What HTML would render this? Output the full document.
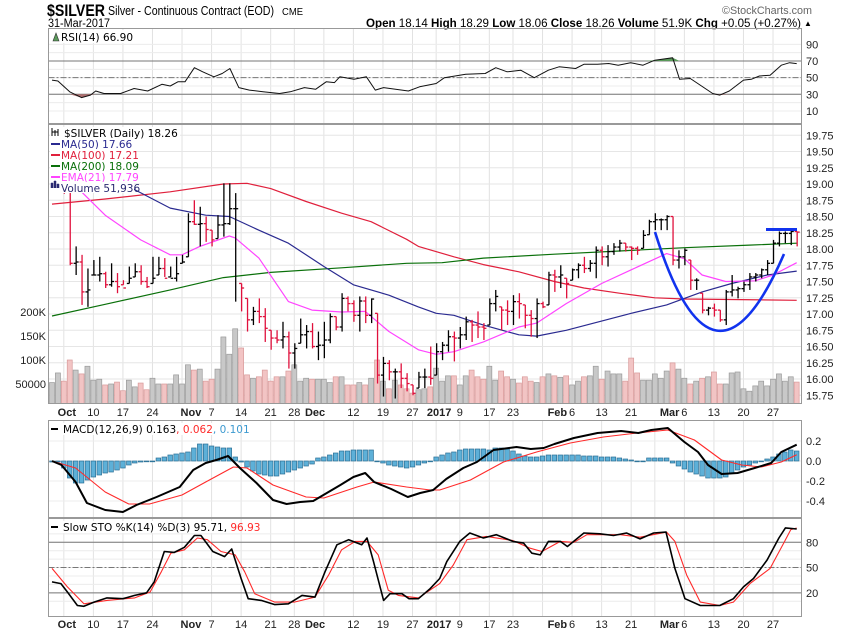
<!DOCTYPE html>
<html><head><meta charset="utf-8">
<style>
html,body{margin:0;padding:0;background:#fff;}
body{width:850px;height:633px;overflow:hidden;font-family:"Liberation Sans",sans-serif;}
svg text{font-family:"Liberation Sans",sans-serif;}
.lg{font-family:"DejaVu Sans","Liberation Sans",sans-serif;font-size:10.5px;}
.ax{font-size:11px;fill:#222;}
</style></head>
<body>
<svg id="chart" width="850" height="633" viewBox="0 0 850 633" xmlns="http://www.w3.org/2000/svg">
<g id="header">
<text x="47" y="16" font-size="17" font-weight="bold" textLength="58" lengthAdjust="spacingAndGlyphs">$SILVER</text>
<text x="108" y="15" font-size="12.5" textLength="166" lengthAdjust="spacingAndGlyphs">Silver - Continuous Contract (EOD)</text>
<text x="282" y="15" font-size="10" textLength="21" lengthAdjust="spacingAndGlyphs">CME</text>
<text x="48" y="27" font-size="11.5" textLength="62" lengthAdjust="spacingAndGlyphs">31-Mar-2017</text>
<text x="722" y="14" font-size="11" fill="#666" textLength="90" lengthAdjust="spacingAndGlyphs">©StockCharts.com</text>
<text x="366" y="27" font-size="12" textLength="435" lengthAdjust="spacingAndGlyphs"><tspan font-weight="bold">Open</tspan> 18.14 <tspan font-weight="bold">High</tspan> 18.29 <tspan font-weight="bold">Low</tspan> 18.06 <tspan font-weight="bold">Close</tspan> 18.26 <tspan font-weight="bold">Volume</tspan> 51.9K <tspan font-weight="bold">Chg</tspan> +0.05 (+0.27%)</text>
<text x="804" y="26" font-size="8">▲</text>
</g>
</svg>
<script>
// ---------- DATA ----------
const closes=[19.05,19.10,18.90,17.78,17.80,17.34,17.37,17.60,17.62,17.45,17.50,17.42,17.40,17.55,17.65,17.50,17.42,17.55,17.70,17.55,17.55,17.62,17.80,18.42,18.38,18.39,18.30,18.14,18.37,18.39,18.62,18.62,17.40,16.91,17.04,16.96,16.78,16.63,16.60,16.65,16.40,16.47,16.68,16.73,16.50,16.52,16.60,16.96,16.80,17.24,17.16,16.98,17.20,16.98,17.23,16.06,16.24,16.11,16.11,16.01,15.93,15.78,16.03,16.03,
16.01,16.42,16.52,16.65,16.63,16.68,16.88,16.83,16.80,16.78,17.16,17.27,17.06,17.04,17.19,17.16,16.98,16.93,17.16,17.11,17.60,17.57,17.60,17.47,17.68,17.75,17.70,17.78,17.98,17.88,17.96,18.03,18.09,18.03,18.01,17.98,18.21,18.42,18.45,18.45,18.50,17.83,17.88,17.98,17.52,17.52,17.06,17.09,17.06,16.91,17.34,17.37,17.39,17.45,17.57,17.60,17.68,17.78,18.09,18.24,18.24,18.27,18.26];
const highs=[19.2,19.2,19.2,18.88,18.04,17.91,17.7,17.83,17.88,17.65,17.78,17.63,17.52,17.73,17.78,17.75,17.57,17.88,17.88,17.86,17.73,17.88,17.91,18.55,18.75,18.65,18.5,18.29,18.52,19.01,19.01,18.86,17.47,17.24,17.11,17.24,17.09,16.75,16.75,16.88,16.73,16.55,16.93,16.83,16.86,16.73,16.88,17.01,16.96,17.32,17.27,17.21,17.27,17.27,17.24,17.01,16.34,16.29,16.16,16.24,16.09,15.91,16.11,16.16,
16.5,16.55,16.57,16.75,16.73,16.8,16.96,16.91,17.04,16.86,17.24,17.37,17.11,17.21,17.29,17.32,17.14,17.06,17.24,17.19,17.65,17.68,17.75,17.55,17.7,17.78,17.88,17.83,18.04,18.04,18.06,18.09,18.14,18.09,18.04,18.04,18.29,18.45,18.55,18.47,18.52,18.5,17.98,18.01,17.83,17.55,17.32,17.11,17.16,17.06,17.37,17.6,17.42,17.5,17.63,17.63,17.7,17.83,18.14,18.27,18.27,18.32,18.27];
const lows=[19.0,19.02,18.85,17.75,17.6,17.14,17.11,17.6,17.5,17.4,17.42,17.32,17.45,17.47,17.57,17.45,17.4,17.47,17.6,17.57,17.57,17.5,17.78,17.88,18.37,18.04,18.11,18.04,18.16,18.19,18.37,17.19,17.04,16.73,16.83,16.86,16.57,16.45,16.55,16.47,16.16,16.16,16.55,16.47,16.47,16.29,16.32,16.55,16.75,16.73,17.04,16.88,16.73,16.86,16.86,15.93,15.73,15.98,15.7,15.86,15.81,15.75,15.86,15.86,
15.91,16.06,16.29,16.42,16.27,16.47,16.6,16.57,16.63,16.6,16.83,17.04,16.75,16.83,16.83,16.93,16.78,16.65,16.63,17.09,17.14,17.34,17.4,17.24,17.52,17.55,17.63,17.65,17.55,17.75,17.73,17.91,17.96,17.96,17.83,17.91,18.01,18.22,18.29,18.29,18.29,17.75,17.7,17.75,17.37,17.37,17.01,16.98,16.96,16.88,16.83,17.27,17.24,17.34,17.37,17.5,17.55,17.6,17.78,18.04,18.09,18.06,18.04];
const volumesK=[53,73,56,100,79,71,87,58,60,48,50,54,36,58,44,52,38,62,50,50,50,69,50,90,79,81,56,60,81,148,112,165,125,69,62,65,79,56,65,65,77,90,56,62,60,60,60,53,65,65,48,48,53,48,62,100,56,40,58,48,40,31,38,40,
44,83,56,67,67,48,67,79,65,60,87,58,77,65,60,52,65,56,53,65,71,67,64,67,48,56,65,67,87,60,77,71,71,56,104,73,58,58,71,62,77,94,81,62,50,56,62,65,75,50,50,73,75,40,35,46,56,46,60,71,56,65,54];
const ma50Idx=[13,20,26,30,35,40,46,51,57,62,65,68,73,79,82,87,93,98,104,110,115,121,126];
const ma50Val=[18.96,18.63,18.52,18.5,18.29,18.09,17.73,17.45,17.29,17.11,17.01,16.98,16.83,16.68,16.66,16.75,16.89,17.01,17.14,17.34,17.47,17.6,17.66];
const ma100Idx=[0,9,20,29,33,37,43,49,54,60,62,68,73,79,85,90,96,102,107,126];
const ma100Val=[18.69,18.77,18.88,19.0,19.01,18.93,18.73,18.55,18.42,18.15,18.04,17.88,17.76,17.65,17.5,17.4,17.32,17.25,17.23,17.21];
const ma200Idx=[0,9,20,29,37,49,60,66,73,85,96,107,118,126];
const ma200Val=[16.97,17.15,17.37,17.56,17.64,17.71,17.78,17.79,17.86,17.92,17.97,18.02,18.06,18.09];
const ema21Idx=[5,9,15,20,22,25,30,31,35,40,44,49,53,57,62,65,68,73,79,82,87,93,98,104,107,110,114,119,122,126];
const ema21Val=[18.88,18.52,18.14,17.91,17.91,18.04,18.2,18.17,17.86,17.19,17.06,17.03,17.04,16.73,16.45,16.38,16.42,16.57,16.8,16.86,17.16,17.47,17.68,17.93,17.85,17.6,17.5,17.51,17.6,17.79];
const rsiIdx=[0,1,3,5,6.5,7.4,8.8,11.6,13.9,16.2,18.6,20,21.3,22.5,24.1,25.5,27.4,28.8,30.1,31.6,33.4,35.7,38.5,40.3,42.7,44.6,46.4,47.8,48.7,51.1,53.2,54.7,56.1,60.3,62.2,65,66.4,70,73.3,75.1,77,79.3,81.6,84,85.8,88.6,90,92.3,94.2,95.8,97.9,100,102,105,106.2,108,111.8,113,114.6,117,118.3,119.7,121.5,123.4,124.8,126];
const rsiVal=[47,46,33,26,29,34,31,31,37,34,42,40,45,45,62,57,51,55,61,38,35,33,31,33,38,36,45,44,51,48,51,35,38,34,39,43,50,54,55,62,57,59,50,59,63,61,66,66,67,65,68,65,71,74,48,49,31,29,34,47,48,52,53,65,68,66.9];
const macdIdx=[0,1.6,4,5.9,9,12,14.3,17.7,21.6,23.9,26,27.8,29.8,31.8,34.6,37.4,39.7,42,44.2,46.5,48.8,51,53,54.5,57.4,60.2,62.3,64.5,66.7,69.6,71.9,74.7,78.6,81,83.2,85,88.3,92.3,96.3,99.2,101.4,104.2,107,109.3,111,113.3,116,118.9,121.7,123.4,126];
const macdVal=[0,-0.04,-0.21,-0.42,-0.49,-0.51,-0.44,-0.36,-0.26,-0.09,-0.02,0.01,0.05,-0.07,-0.22,-0.39,-0.43,-0.41,-0.40,-0.32,-0.24,-0.16,-0.12,-0.21,-0.28,-0.36,-0.32,-0.29,-0.18,-0.07,-0.01,0.11,0.14,0.12,0.13,0.17,0.23,0.28,0.30,0.28,0.31,0.33,0.19,0.09,-0.04,-0.13,-0.12,-0.07,-0.02,0.09,0.163];
const sigIdx=[0,4,9,13,16.5,22,26,30.7,33,37.4,43,46,51.6,54.5,60,64,65.6,70.8,76.4,82,87.7,93.3,99,104.2,108.7,113.3,116.7,120,123.4,126];
const sigVal=[0,-0.07,-0.31,-0.43,-0.43,-0.34,-0.21,-0.06,-0.07,-0.24,-0.36,-0.37,-0.26,-0.21,-0.26,-0.29,-0.29,-0.19,-0.01,0.09,0.18,0.24,0.28,0.31,0.21,0.01,-0.04,-0.06,-0.01,0.062];
const histVal=[-0.01,-0.01,-0.07,-0.17,-0.22,-0.22,-0.19,-0.16,-0.14,-0.12,-0.11,-0.09,-0.07,-0.04,-0.02,-0.01,0,0,0.03,0.04,0.06,0.07,0.08,0.09,0.13,0.17,0.17,0.15,0.14,0.13,0.13,0.04,-0.01,-0.06,-0.10,-0.13,-0.14,-0.15,-0.15,-0.13,-0.11,-0.09,-0.07,-0.05,-0.03,0.03,0.04,0.06,0.08,0.10,0.10,0.11,0.11,0.11,0.11,0,-0.02,-0.04,-0.05,-0.06,-0.07,-0.06,-0.04,-0.02,0,
0.04,0.06,0.08,0.09,0.11,0.12,0.12,0.12,0.12,0.11,0.13,0.13,0.12,0.10,0.07,0.05,0.04,0.04,0.05,0.06,0.06,0.06,0.06,0.06,0.06,0.05,0.05,0.05,0.04,0.04,0.04,0.03,0.02,0.01,0,0,0.03,0.03,0.03,0.03,-0.02,-0.05,-0.08,-0.11,-0.13,-0.15,-0.17,-0.17,-0.17,-0.16,-0.12,-0.09,-0.06,-0.04,-0.02,0,0.02,0.04,0.07,0.09,0.11,0.10];
const stoKIdx=[0,1.5,2.6,4.3,5.4,7.1,9.3,12,14,16,17.3,19,20.7,22.4,24.1,25.2,27.2,29.2,30.4,32,33.2,35.4,37.7,40,42.3,44.5,46.2,48.2,50.2,52.4,53.3,54.4,56.1,57.2,59.2,60.4,62,64,65.6,66.8,69,70.7,73,75.2,78,79.8,81.2,82.6,84,86,87.2,90,92.7,95,97.2,99.5,101.8,103.9,105.4,107.1,109.7,113,115.3,117,118.7,121,123,124.1,126];
const stoKVal=[33,31,21,5,4,9,14,13,17,20,33,69,68,74,88,88,69,63,72,37,13,11,6,7,17,15,45,77,83,77,85,57,11,19,19,13,13,25,37,57,81,91,85,89,81,79,67,65,81,81,75,91,90,88,91,84,91,92,49,13,5,5,13,27,37,59,85,97,95.71];
const stoDIdx=[0,2.6,5.4,9.3,14,16.6,18.5,20.1,22.4,24.6,26.3,28.6,31,32.6,34.3,37.7,41,44.5,46.8,49,51.3,53.3,55.2,56.9,58.6,62,65.6,67.9,70.2,73.5,78,80.9,82.9,86,88.3,90.5,96.2,99.5,104,105.4,107.4,109.7,113,115.3,118.1,121.5,123.8,125,126];
const stoDVal=[49,27,7,11,14,21,45,67,71,85,83,69,65,45,19,9,9,15,41,71,81,81,65,23,17,14,31,53,83,87,82,73,69,81,80,89,89,86,92,81,41,9,5,9,31,49,79,95,96.93];
const tickIdx=[2,7,12,17,23,27,32,37,41,44,51,56,61,65,69,74,78,85,88,93,98,104,107,112,117,122];
const tickLabels=["Oct","10","17","24","Nov","7","14","21","28","Dec","12","19","27","2017","9","17","23","Feb","6","13","21","Mar","6","13","20","27"];
const monthTicks=["Oct","Nov","Dec","2017","Feb","Mar"];
const gridIdx=[2,7,12,17,22,27,32,37,41,46,51,56,61,65,69,74,78,83,88,93,98,102,107,112,117,122];
const priceTicks=[15.75,16.0,16.25,16.5,16.75,17.0,17.25,17.5,17.75,18.0,18.25,18.5,18.75,19.0,19.25,19.5,19.75];
const volTicks=[50000,100000,150000,200000];
const volTickLabels=["50000","100K","150K","200K"];
const rsiTicks=[10,30,50,70,90];
const macdTicks=[-0.4,-0.2,0.0,0.2];
const stoTicks=[20,50,80];

// ---------- SCALES ----------
const L=48.5,R=801.5;
const X=i=>52+i*5.91;
const P={top:124.5,bot:403.5};
const yP=p=>184+(19-p)*65;
const yV=v=>408-v/50000*24;
const RS={top:28.5,bot:123.5}; const yR=v=>119.3-v*0.833;
const MC={top:420.5,bot:517.5}; const yM=v=>461-v*100;
const ST={top:518.5,bot:616.5}; const yS=v=>609.7-v*0.843;

const svg=document.getElementById('chart');
const NS='http://www.w3.org/2000/svg';
function mk(tag,attrs,parent){const e=document.createElementNS(NS,tag);for(const k in attrs)e.setAttribute(k,attrs[k]);(parent||svg).appendChild(e);return e;}
function txt(x,y,s,attrs,parent){const t=mk('text',Object.assign({x:x,y:y},attrs||{}),parent);t.textContent=s;return t;}

const defs=mk('defs',{});
[['cR',RS],['cP',P],['cM',MC],['cS',ST]].forEach(([id,r])=>{const c=mk('clipPath',{id:id},defs);mk('rect',{x:L,y:r.top,width:R-L,height:r.bot-r.top},c);});

function panel(name,r,clip){
  const g=mk('g',{'clip-path':'url(#'+clip+')'});
  
  
  gridIdx.forEach(i=>{const l=mk('line',{x1:X(i),x2:X(i),y1:r.top,y2:r.bot,stroke:'#e2e2e2','stroke-width':1},g);
    
    });
  return g;
}
function frame(name,r){const f=mk('rect',{x:L,y:r.top,width:R-L,height:r.bot-r.top,fill:'none',stroke:'#999','stroke-width':1});
  
  }
function poly(g,idx,val,yf,color,w,name){
  const pts=idx.map((i,k)=>X(i).toFixed(1)+','+yf(val[k]).toFixed(1)).join(' ');
  const p=mk('polyline',{points:pts,fill:'none',stroke:color,'stroke-width':w,'stroke-linejoin':'round'},g);
  
  
  return p;
}
function hline(g,y,color,dash,name){const l=mk('line',{x1:L,x2:R,y1:y,y2:y,stroke:color,'stroke-width':1},g);if(dash)l.setAttribute('stroke-dasharray',dash);
  
  }

// ---------- RSI ----------
const gR=panel('rsi-panel',RS,'cR');
for(let v=10;v<=90;v+=10){hline(gR,yR(v),'#ececec',null,'rsi-gridline');}
hline(gR,yR(30),'#777',null,'rsi-30-line');hline(gR,yR(70),'#777',null,'rsi-70-line');hline(gR,yR(50),'#777','6,2,2,2','rsi-50-line');
(function(){
  const ptsUp=[],ptsDn=[];
  rsiIdx.forEach((i,k)=>{ptsUp.push([X(i),Math.min(yR(rsiVal[k]),yR(70))]);ptsDn.push([X(i),Math.max(yR(rsiVal[k]),yR(30))]);});
  const pu='M'+X(rsiIdx[0])+','+yR(70)+ptsUp.map(p=>'L'+p[0].toFixed(1)+','+p[1].toFixed(1)).join('')+'L'+X(rsiIdx[rsiIdx.length-1])+','+yR(70)+'Z';
  const pd='M'+X(rsiIdx[0])+','+yR(30)+ptsDn.map(p=>'L'+p[0].toFixed(1)+','+p[1].toFixed(1)).join('')+'L'+X(rsiIdx[rsiIdx.length-1])+','+yR(30)+'Z';
  const a=mk('path',{d:pu,fill:'#5a9a5a'},gR);
  
  
  const b=mk('path',{d:pd,fill:'#b07070'},gR);
  
  
})();
poly(gR,rsiIdx,rsiVal,yR,'#111',1,'rsi-line');
frame('rsi-frame',RS);
rsiTicks.forEach(v=>{const t=txt(806,yR(v)+4,String(v),{class:'ax'});
  
  });
const rl=mk('rect',{x:50,y:30,width:82,height:13,fill:'#fff'});


const ri=mk('path',{d:'M53,41 L56,33 L59,41 Z',fill:'#5a9a5a',stroke:'#333','stroke-width':0.6});


const rt=txt(61,41,'RSI(14) 66.90',{class:'lg'});



// ---------- PRICE ----------
const gP=panel('price-panel',P,'cP');
priceTicks.forEach(p=>hline(gP,yP(p),'#e6e6e6',null,'price-gridline'));
volumesK.forEach((v,i)=>{
  const down=i>0&&closes[i]<closes[i-1];
  const y=yV(v*1000);
  const r=mk('rect',{x:X(i)-2.5,y:y,width:5,height:P.bot-y,fill:down?'#f2c4c4':'#c8c8c8',stroke:down?'#d89a9a':'#9a9a9a','stroke-width':0.7},gP);
  
  
});
poly(gP,ma100Idx,ma100Val,yP,'#e0203c',1.2,'ma100-line');
poly(gP,ma200Idx,ma200Val,yP,'#0a700a',1.2,'ma200-line');
poly(gP,ma50Idx,ma50Val,yP,'#2a2a90',1.2,'ma50-line');
poly(gP,ema21Idx,ema21Val,yP,'#ff44ff',1.2,'ema21-line');
closes.forEach((c,i)=>{
  const down=i>0&&c<closes[i-1];
  const col=down?'#e0103c':'#000';
  const x=X(i)+0.5;
  const g=mk('g',{stroke:col,'stroke-width':1.3},gP);
  
  
  mk('line',{x1:x,x2:x,y1:yP(highs[i]),y2:yP(lows[i])},g);
  mk('line',{x1:x,x2:x+2.5,y1:yP(c),y2:yP(c)},g);
  const o=i>0?closes[i-1]:c;
  const oy=yP(Math.min(Math.max(o,lows[i]),highs[i]));
  mk('line',{x1:x-2.5,x2:x,y1:oy,y2:oy},g);
});
const cup=mk('path',{d:'M655,232 Q713,418 784,254',fill:'none',stroke:'#1133ee','stroke-width':2.6},gP);


const hl=mk('line',{x1:766,x2:797,y1:229.5,y2:229.5,stroke:'#1133ee','stroke-width':3},gP);


frame('price-frame',P);
priceTicks.forEach(p=>{const t=txt(806,yP(p)+4,p.toFixed(2),{class:'ax'});
  
  });
volTicks.forEach((v,k)=>{const t=txt(46,yV(v)+4,volTickLabels[k],{class:'ax','text-anchor':'end'});
  
  });
const legs=[['$SILVER (Daily) 18.26','#000',null],['MA(50) 17.66','#2a2a90','#2a2a90'],['MA(100) 17.21','#e0203c','#e0203c'],['MA(200) 18.09','#0a700a','#0a700a'],['EMA(21) 17.79','#ff44ff','#ff44ff'],['Volume 51,936','#2a2a70',null]];
const lgN=['price-legend','ma50-legend','ma100-legend','ma200-legend','ema21-legend','volume-legend'];
const wds=[130,78,84,84,82,84];
legs.forEach((l,k)=>{
  const y=137+k*11;
  const bg=mk('rect',{x:50,y:y-10,width:wds[k],height:11,fill:'#fff'});
  
  
  if(l[2]){const s=mk('line',{x1:51,x2:60,y1:y-4,y2:y-4,stroke:l[2],'stroke-width':2});
    
    }
  const t=txt(k==0?64:61,y,l[0],{class:'lg',fill:l[1]});
  
  
});
const bi=mk('path',{d:'M52,128 v8 M55,130 v6 M58,129 v7 M52,132 h6',stroke:'#000','stroke-width':1});


const vi=mk('path',{d:'M51,188 v-5 h2 v5 M54,188 v-7 h2 v7 M57,188 v-4 h2 v4',fill:'#2a2a70',stroke:'#2a2a70','stroke-width':0.5});



function xLabels(y,name){tickIdx.forEach((i,k)=>{const lab=tickLabels[k];const isM=monthTicks.includes(lab);
  const t=txt(X(i)+(isM?3:0),y,lab,{class:'ax','text-anchor':'middle','font-weight':isM?'bold':'normal','font-size':isM?'12':'11'});
  
  });}
xLabels(416,'x-axis-label');

// ---------- MACD ----------
const gM=panel('macd-panel',MC,'cM');
macdTicks.forEach(v=>hline(gM,yM(v),'#ececec',null,'macd-gridline'));
histVal.forEach((v,i)=>{const y0=yM(0),y1=yM(v);
  const r=mk('rect',{x:X(i)-2.3,y:Math.min(y0,y1),width:4.6,height:Math.max(0.8,Math.abs(y1-y0)),fill:'#5db0d8',stroke:'#2b6f95','stroke-width':0.7},gM);
  
  });
poly(gM,sigIdx,sigVal,yM,'#ff2a2a',1.1,'macd-signal-line');
poly(gM,macdIdx,macdVal,yM,'#000',2,'macd-line');
frame('macd-frame',MC);
macdTicks.forEach(v=>{const t=txt(806,yM(v)+4,v.toFixed(1),{class:'ax'});
  
  });
const mbg=mk('rect',{x:50,y:423,width:175,height:12,fill:'#fff'});


const ml=mk('line',{x1:51,x2:58,y1:429,y2:429,stroke:'#000','stroke-width':2});


const mt=mk('text',{x:63,y:433,class:'lg'});


mt.innerHTML='MACD(12,26,9) 0.163<tspan fill="#ff2a2a">, 0.062</tspan><tspan fill="#3d9ad0">, 0.101</tspan>';

// ---------- STO ----------
const gS=panel('stochastic-panel',ST,'cS');
for(let v=10;v<=90;v+=10)hline(gS,yS(v),'#ececec',null,'sto-gridline');
hline(gS,yS(20),'#777',null,'sto-20-line');hline(gS,yS(80),'#777',null,'sto-80-line');hline(gS,yS(50),'#777','6,2,2,2','sto-50-line');
poly(gS,stoDIdx,stoDVal,yS,'#ff2a2a',1.1,'sto-d-line');
poly(gS,stoKIdx,stoKVal,yS,'#000',1.6,'sto-k-line');
frame('sto-frame',ST);
stoTicks.forEach(v=>{const t=txt(806,yS(v)+4,String(v),{class:'ax'});
  
  });
const sbg=mk('rect',{x:50,y:521,width:190,height:12,fill:'#fff'});


const sl=mk('line',{x1:51,x2:58,y1:527,y2:527,stroke:'#000','stroke-width':2});


const st=mk('text',{x:63,y:531,class:'lg'});


st.innerHTML='Slow STO %K(14) %D(3) 95.71, <tspan fill="#ff2a2a">96.93</tspan>';
xLabels(628,'bottom-x-axis-label');
</script>
</body></html>
